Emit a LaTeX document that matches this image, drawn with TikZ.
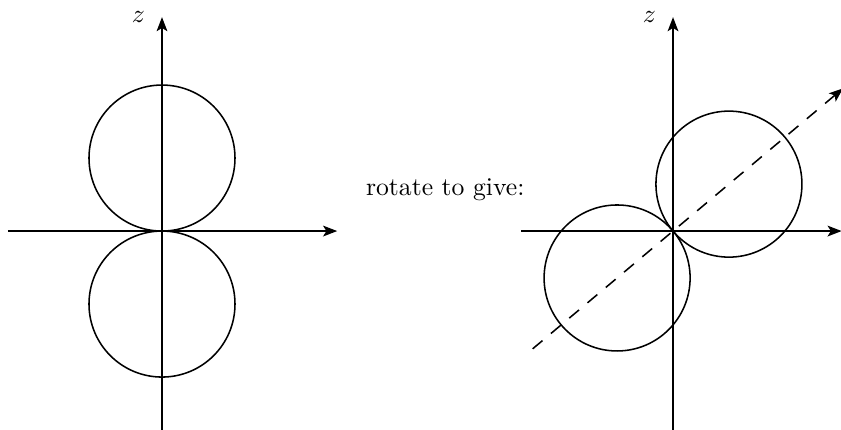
\documentclass[tikz,border=0pt]{standalone}
\usepackage{amsmath}
\usetikzlibrary{arrows.meta}

\begin{document}
\begin{tikzpicture}[>={Stealth[length=5.5pt,width=4.2pt,inset=1.3pt]}, line width=0.6pt]

    \useasboundingbox (-2.219,-2.712) rectangle ++(11.52,5.877);

    % ================= before rotation =================
    \begin{scope}
        \coordinate (O1) at (0,0);
        % Axes
        \draw[->] (-2.11,0) -- (2.40,0);
        \draw[->] (0,-2.72) -- (0,2.93) node[left=3pt] {$z$};

        % Circles
        \draw (0,1) circle (1);
        \draw (0,-1) circle (1);
    \end{scope}

    \node (txt) at (3.88,0.57) {rotate to give:};

    % ================= after rotation =================
    \begin{scope}[xshift=7cm]
        \coordinate (O2) at (0,0);
        % Axes
        \draw[->] (-2.08,0) -- (2.31,0);
        \draw[->] (0,-2.72) -- (0,2.93) node[left=3pt] {$z$};

        % Circles along the rotated axis
        \draw (40:1) circle (1);
        \draw (220:1) circle (1);

        % Rotated axis
        \draw[->, dash pattern=on 5pt off 4.3pt] (220:2.51) -- (40:3.04);
    \end{scope}

\end{tikzpicture}
\end{document}
